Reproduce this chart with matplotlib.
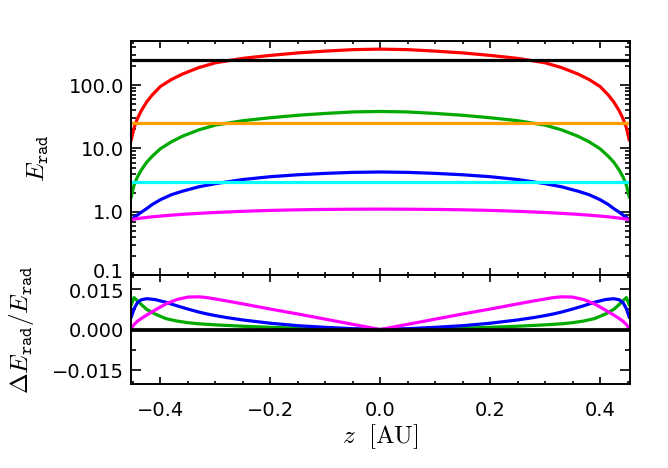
import numpy as np
import matplotlib.pyplot as plt
from matplotlib.ticker import FixedLocator, FixedFormatter, MultipleLocator, LogLocator, NullFormatter
from matplotlib.transforms import ScaledTranslation

plt.rcParams['mathtext.fontset'] = 'cm'
plt.rcParams['font.family'] = ['DejaVu Sans']

# z positions (AU) for the right half; curves are symmetric about z = 0
z_half = [0.0, 0.05, 0.1, 0.15, 0.2, 0.25, 0.3, 0.33, 0.36, 0.38, 0.4,
          0.415, 0.425, 0.435, 0.442, 0.448, 0.453]

# E_rad profiles
e_red = [372, 365, 346, 324, 296, 266, 226, 190, 150, 123, 95.5,
         70, 54.4, 39.3, 29.4, 21.2, 13.7]
e_green = [38.5, 37.8, 35.8, 33.5, 30.6, 27.5, 23.4, 19.7, 15.6, 12.75, 9.9,
           7.53, 6.06, 4.53, 3.52, 2.63, 1.72]
e_blue = [4.25, 4.19, 4.04, 3.84, 3.58, 3.23, 2.78, 2.48, 2.11, 1.86, 1.55,
          1.30, 1.12, 0.98, 0.885, 0.812, 0.75]
e_magenta = [1.100, 1.096, 1.088, 1.073, 1.050, 1.016, 0.974, 0.943, 0.909, 0.883, 0.855,
             0.831, 0.813, 0.793, 0.778, 0.763, 0.75]

# constant levels
e_black = 250.0
e_orange = 25.0
e_cyan = 3.0

# relative differences dE/E
zd_half = [0.0, 0.05, 0.1, 0.15, 0.2, 0.25, 0.28, 0.3, 0.315, 0.33, 0.35,
           0.37, 0.39, 0.41, 0.425, 0.435, 0.442, 0.448, 0.453]
d_green = [0.0, 0.0001, 0.0003, 0.0005, 0.0008, 0.0012, 0.0015, 0.0017, 0.0019, 0.0021, 0.0025,
           0.0031, 0.0040, 0.0057, 0.0074, 0.0092, 0.0106, 0.0117, 0.0091]
d_blue = [0.0, 0.0003, 0.0008, 0.0014, 0.0023, 0.0035, 0.0044, 0.0051, 0.0057, 0.0064, 0.0075,
          0.0087, 0.0100, 0.0110, 0.0113, 0.0109, 0.0098, 0.0076, 0.0046]
d_magenta = [0.0, 0.0019, 0.0038, 0.0057, 0.0075, 0.0094, 0.0105, 0.0112, 0.0117, 0.0120, 0.0119,
             0.0110, 0.0094, 0.0071, 0.0053, 0.0040, 0.0030, 0.0018, 0.0004]


def mirror(vals, sign=1.0):
    vals = np.asarray(vals, dtype=float)
    return np.concatenate([sign * vals[:0:-1], vals])


z = mirror(z_half, -1.0)
zd = mirror(zd_half, -1.0)

lw = 2.3
c_orange = '#FF9F00'
c_green = '#00AA00'

fig = plt.figure(figsize=(6.68, 4.68), dpi=100)
ax1 = fig.add_axes([131 / 668, 1 - 275 / 468, 499 / 668, 234 / 468])
ax2 = fig.add_axes([131 / 668, 1 - 384 / 468, 499 / 668, 109 / 468])

# top panel
ax1.plot(z, mirror(e_red), color='red', lw=lw)
ax1.axhline(e_black, color='black', lw=lw)
ax1.plot(z, mirror(e_green), color=c_green, lw=lw)
ax1.axhline(e_orange, color=c_orange, lw=lw)
ax1.plot(z, mirror(e_blue), color='blue', lw=lw)
ax1.axhline(e_cyan, color='cyan', lw=lw)
ax1.plot(z, mirror(e_magenta), color='magenta', lw=lw)

ax1.set_yscale('log')
ax1.set_ylim(0.1, 500)
ax1.yaxis.set_major_locator(FixedLocator([0.1, 1, 10, 100]))
ax1.yaxis.set_major_formatter(FixedFormatter(['0.1', '1.0', '10.0', '100.0']))
ax1.yaxis.set_minor_locator(LogLocator(base=10, subs=np.arange(2, 10)))
ax1.yaxis.set_minor_formatter(NullFormatter())
ax1.set_ylabel(r'$E_{\mathtt{rad}}$', fontsize=18)
ax1.yaxis.set_label_coords(-0.16, 0.5)
ax1.tick_params(axis='x', labelbottom=False)

# bottom panel
ax2.plot(zd, mirror(d_green), color=c_green, lw=lw)
ax2.plot(zd, mirror(d_blue), color='blue', lw=lw)
ax2.plot(zd, mirror(d_magenta), color='magenta', lw=lw)
ax2.axhline(0.0, color='black', lw=lw + 0.4)
ax2.set_ylim(-0.02, 0.02)
ax2.yaxis.set_major_locator(FixedLocator([-0.015, 0.0, 0.015]))
ax2.yaxis.set_major_formatter(FixedFormatter(['\u22120.015', '0.000', '0.015']))
ax2.yaxis.set_minor_locator(MultipleLocator(0.0075))
ax2.set_ylabel(r'$\Delta E_{\mathtt{rad}}/E_{\mathtt{rad}}$', fontsize=18)
ax2.yaxis.set_label_coords(-0.19, 0.5)
ax2.set_xlabel(r'$z\ \ [\mathrm{AU}]$', fontsize=18, labelpad=2)

for ax in (ax1, ax2):
    ax.set_xlim(-0.4535, 0.4545)
    ax.xaxis.set_major_locator(MultipleLocator(0.2))
    ax.xaxis.set_minor_locator(MultipleLocator(0.05))
    ax.tick_params(which='both', direction='in', top=True, right=True, width=1.2, labelsize=14)
    ax.tick_params(axis='x', which='major', length=5, pad=12)
    ax.tick_params(axis='x', which='minor', length=2.5)
    ax.tick_params(axis='y', which='major', length=7, pad=5)
    ax.tick_params(axis='y', which='minor', length=3.6)
    for sp in ax.spines.values():
        sp.set_linewidth(1.4)

ax2.set_xticks([-0.4, -0.2, 0.0, 0.2, 0.4])
ax2.set_xticklabels(['\u22120.4', '\u22120.2', '0.0', '0.2', '0.4'])

# nudge the labels at the panel boundary apart, as in the original
lab = ax1.yaxis.get_major_ticks()[0].label1
lab.set_transform(lab.get_transform() + ScaledTranslation(0, 4 / 100, fig.dpi_scale_trans))
lab = ax2.yaxis.get_major_ticks()[2].label1
lab.set_transform(lab.get_transform() + ScaledTranslation(0, -2 / 100, fig.dpi_scale_trans))

fig.savefig('out.png', dpi=100)
